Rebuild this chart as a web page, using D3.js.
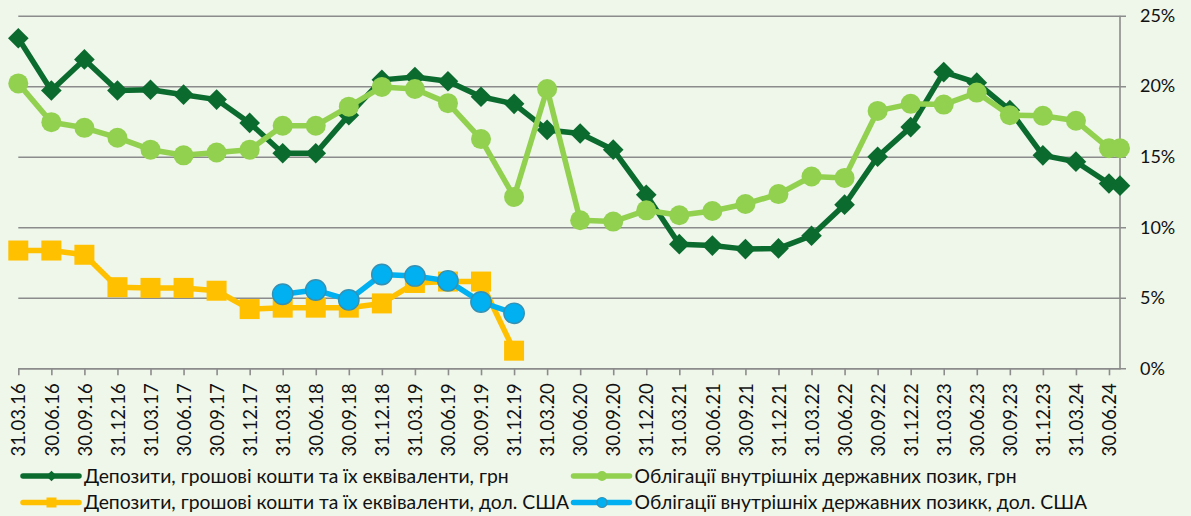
<!DOCTYPE html>
<html><head><meta charset="utf-8">
<script src="https://cdn.jsdelivr.net/npm/d3@7"></script>
<style>
html,body{margin:0;padding:0;background:#eff6ea;}
svg{display:block;}
text{font-family:Lato,"Noto Sans",sans-serif;fill:#111;}
</style></head><body>
<svg id="c" width="1191" height="516"></svg>
<script>
// ---- data ----
const dates = ["31.03.16","30.06.16","30.09.16","31.12.16","31.03.17","30.06.17","30.09.17","31.12.17",
  "31.03.18","30.06.18","30.09.18","31.12.18","31.03.19","30.06.19","30.09.19","31.12.19",
  "31.03.20","30.06.20","30.09.20","31.12.20","31.03.21","30.06.21","30.09.21","31.12.21",
  "31.03.22","30.06.22","30.09.22","31.12.22","31.03.23","30.06.23","30.09.23","31.12.23",
  "31.03.24","30.06.24","31.07.24"];
const tickLabels = dates.slice(0, 34);
const yTicks = [0, 5, 10, 15, 20, 25];
const depUAH = [23.4,19.7,21.9,19.7,19.75,19.4,19.05,17.4,15.25,15.25,17.95,20.45,20.65,20.35,19.25,18.75,
  16.9,16.65,15.5,12.3,8.8,8.7,8.45,8.5,9.4,11.6,15.0,17.1,21.0,20.25,18.3,15.1,14.65,13.1,12.95];
const bondsUAH = [20.2,17.45,17.05,16.35,15.5,15.1,15.3,15.5,17.2,17.2,18.55,19.95,19.8,18.8,16.25,12.15,
  19.8,10.5,10.4,11.2,10.85,11.15,11.65,12.35,13.6,13.5,18.25,18.75,18.7,19.55,17.95,17.9,17.55,15.6,15.6];
const depUSD = [8.35,8.35,8.05,5.75,5.7,5.7,5.5,4.2,4.3,4.3,4.3,4.6,6.05,6.15,6.15,1.25];
const bondsUSD = [null,null,null,null,null,null,null,null,5.25,5.55,4.85,6.65,6.55,6.2,4.7,3.9];
const seriesNames = ["Депозити, грошові кошти та їх еквіваленти, грн",
  "Облігації внутрішніх державних позик, грн",
  "Депозити, грошові кошти та їх еквіваленти, дол. США",
  "Облігації внутрішніх державних позикк, дол. США"];

// ---- layout ----
const W = 1191, H = 516;
const svg = d3.select("#c");
svg.append("rect").attr("width", W).attr("height", H).attr("fill", "#eff6ea");

const monthIdx = s => { const [d, m, yy] = s.split(".").map(Number); return (2000 + yy - 2016) * 12 + (m - 3); };
const xLeft = 18.3, xRight = 1120;
const x = d3.scaleLinear().domain([0, monthIdx(dates[dates.length - 1])]).range([xLeft, xRight]);
const y = d3.scaleLinear().domain([0, 25]).range([368.3, 15.7]);
const gridCol = "#8c8c8c";

// gridlines + right ticks/labels
const yAxis = d3.axisRight(y).tickValues(yTicks).tickFormat(d => d + "%")
  .tickSize(xRight + 6 - xLeft).tickPadding(14);
const gy = svg.append("g").attr("transform", `translate(${xLeft},0)`).call(yAxis);
gy.select(".domain").remove();
gy.selectAll(".tick line").attr("stroke", gridCol).attr("stroke-width", 1.6);
gy.selectAll(".tick text").attr("font-size", 18).attr("font-family", "Lato,'Noto Sans',sans-serif").attr("fill", "#111");

// right vertical axis line
svg.append("line").attr("x1", xRight).attr("x2", xRight).attr("y1", y(25)).attr("y2", y(0) + 1)
  .attr("stroke", gridCol).attr("stroke-width", 1.6);

// bottom axis
const xAxis = d3.axisBottom(x).tickValues(tickLabels.map(monthIdx))
  .tickFormat((d, i) => tickLabels[i]).tickSize(7).tickSizeOuter(0);
const gx = svg.append("g").attr("transform", `translate(0,${y(0)})`).call(xAxis);
gx.select(".domain").attr("stroke", gridCol).attr("stroke-width", 1.6);
gx.selectAll(".tick line").attr("stroke", gridCol).attr("stroke-width", 1.6);
gx.selectAll(".tick text")
  .attr("font-size", 18.5).attr("font-family", "Lato,'Noto Sans',sans-serif").attr("fill", "#111")
  .attr("text-anchor", "end").attr("transform", "rotate(-90)")
  .attr("x", -15).attr("y", 0).attr("dy", "0.36em");

// ---- series ----
const colDark = "#0b6b2f", colLight = "#92d050", colYellow = "#ffc000", colBlue = "#00b0f0", colBlueEdge = "#3590b2";
function drawSeries(vals, color, marker) {
  const pts = vals.map((v, i) => ({ m: monthIdx(dates[i]), v })).filter(p => p.v != null);
  const g = svg.append("g");
  g.append("path").datum(pts)
    .attr("d", d3.line().x(p => x(p.m)).y(p => y(p.v)))
    .attr("fill", "none").attr("stroke", color).attr("stroke-width", 5.5).attr("stroke-linejoin", "round");
  const mk = g.selectAll(".mk").data(pts).enter();
  marker(mk);
}
drawSeries(depUAH, colDark, sel => sel.append("rect")
  .attr("x", -7.3).attr("y", -7.3).attr("width", 14.6).attr("height", 14.6)
  .attr("transform", p => `translate(${x(p.m)},${y(p.v)}) rotate(45)`).attr("fill", colDark));
drawSeries(bondsUAH, colLight, sel => sel.append("circle")
  .attr("cx", p => x(p.m)).attr("cy", p => y(p.v)).attr("r", 10).attr("fill", colLight));
drawSeries(depUSD, colYellow, sel => sel.append("rect")
  .attr("x", p => x(p.m) - 10).attr("y", p => y(p.v) - 10).attr("width", 20).attr("height", 20).attr("fill", colYellow));
drawSeries(bondsUSD, colBlue, sel => sel.append("circle")
  .attr("cx", p => x(p.m)).attr("cy", p => y(p.v)).attr("r", 10.2).attr("fill", colBlue)
  .attr("stroke", colBlueEdge).attr("stroke-width", 1.4));

// ---- legend ----
const legItems = [
  { name: seriesNames[0], col: colDark, type: "diamond", lx: 23, ty: 476 },
  { name: seriesNames[1], col: colLight, type: "circle", lx: 573.5, ty: 476 },
  { name: seriesNames[2], col: colYellow, type: "square", lx: 23, ty: 502.5 },
  { name: seriesNames[3], col: colBlue, type: "bcircle", lx: 573.5, ty: 502.5 }
];
const lg = svg.append("g");
let legTexts = [];
legItems.forEach(it => {
  const g = lg.append("g");
  g.append("line").attr("x1", it.lx).attr("x2", it.lx + 56).attr("y1", it.ty).attr("y2", it.ty)
    .attr("stroke", it.col).attr("stroke-width", 5.5).attr("stroke-linecap", "round");
  const cx = it.lx + 28.5;
  if (it.type === "diamond") g.append("rect").attr("x", -3.8).attr("y", -3.8).attr("width", 7.6).attr("height", 7.6)
    .attr("transform", `translate(${cx},${it.ty}) rotate(45)`).attr("fill", it.col);
  if (it.type === "square") g.append("rect").attr("x", cx - 5).attr("y", it.ty - 5).attr("width", 10).attr("height", 10).attr("fill", it.col);
  if (it.type === "circle") g.append("circle").attr("cx", cx).attr("cy", it.ty).attr("r", 5).attr("fill", it.col);
  if (it.type === "bcircle") g.append("circle").attr("cx", cx).attr("cy", it.ty).attr("r", 5).attr("fill", it.col)
    .attr("stroke", colBlueEdge).attr("stroke-width", 1.2);
  const t = g.append("text").attr("x", it.lx + 61).attr("y", it.ty).attr("dy", "0.36em")
    .attr("font-size", 18).text(it.name);
  legTexts.push(t);
});
// fit legend font size so that the first entry spans its measured width
const w0 = legTexts[0].node().getComputedTextLength();
const fs = 18 * 425 / w0;
legTexts.forEach(t => t.attr("font-size", fs));
</script>
</body></html>
